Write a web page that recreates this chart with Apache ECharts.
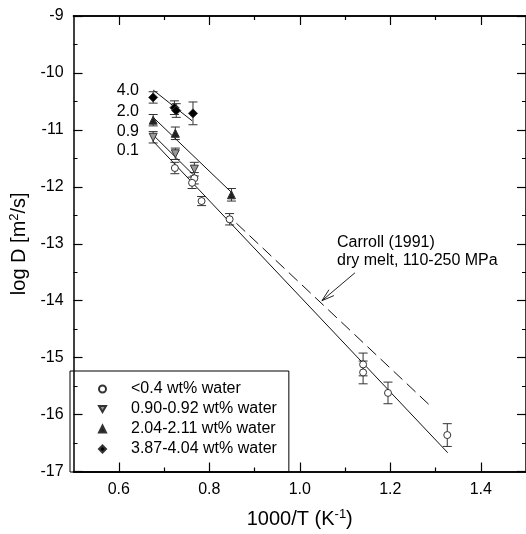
<!DOCTYPE html>
<html>
<head>
<meta charset="utf-8">
<script src="https://cdn.jsdelivr.net/npm/echarts@6/dist/echarts.min.js"></script>
<style>
  html, body { margin: 0; padding: 0; background: #fff; }
  #chart { width: 526px; height: 534px; }
</style>
</head>
<body>
<div id="chart"></div>
<script>
// data: x = 1000/T, y = log D, err = half length of error bar
const lowX   = [0.724, 0.767, 0.762, 0.783, 0.845, 1.140, 1.140, 1.195, 1.326];
const lowY   = [-11.67, -11.85, -11.93, -12.25, -12.57, -15.12, -15.26, -15.62, -16.36];
const lowErr = [0.10, 0.10, 0.10, 0.08, 0.10, 0.20, 0.20, 0.19, 0.20];

const w09X   = [0.676, 0.725, 0.767];
const w09Y   = [-11.13, -11.42, -11.69];
const w09Err = [0.10, 0.10, 0.12];

const w20X   = [0.676, 0.725, 0.849];
const w20Y   = [-10.83, -11.06, -12.14];
const w20Err = [0.10, 0.11, 0.11];

const w40X   = [0.676, 0.723, 0.727, 0.764];
const w40Y   = [-10.43, -10.61, -10.66, -10.71];
const w40Err = [0.10, 0.12, 0.12, 0.20];

// fitted lines (end points) and Carroll (1991) dry melt line
const fit40 = [[0.676, -10.30], [0.762, -10.84]];
const fit20 = [[0.676, -10.78], [0.852, -12.12]];
const fit09 = [[0.676, -11.09], [0.770, -11.83]];
const fit01 = [[0.676, -11.20], [1.327, -16.67]];
const carroll = [[0.860, -12.64], [1.293, -15.88]];
const arrow = [[1.122, -13.51, 1.049, -14.00]];

const seriesNames = ['<0.4 wt% water', '0.90-0.92 wt% water', '2.04-2.11 wt% water', '3.87-4.04 wt% water'];
const xMajor = [0.6, 0.8, 1.0, 1.2, 1.4];
const xMinor = [0.7, 0.9, 1.1, 1.3];

const FONT = "'Liberation Sans', Arial, Helvetica, sans-serif";
const TRI_DOWN = 'path://M0,0L10,0L5,8.66Z';

function pts(xs, ys) {
  return xs.map((x, i) => [x, ys[i]]);
}

function errorBars(xs, ys, es) {
  return {
    type: 'custom',
    silent: true,
    z: 1,
    data: xs.map((x, i) => [x, ys[i] - es[i], ys[i] + es[i]]),
    encode: { x: 0, y: [1, 2] },
    renderItem: function (params, api) {
      const lo = api.coord([api.value(0), api.value(1)]);
      const hi = api.coord([api.value(0), api.value(2)]);
      const w = 4.5;
      const st = { stroke: '#333', lineWidth: 1, fill: null };
      return {
        type: 'group',
        children: [
          { type: 'line', shape: { x1: lo[0], y1: lo[1], x2: hi[0], y2: hi[1] }, style: st },
          { type: 'line', shape: { x1: lo[0] - w, y1: lo[1], x2: lo[0] + w, y2: lo[1] }, style: st },
          { type: 'line', shape: { x1: hi[0] - w, y1: hi[1], x2: hi[0] + w, y2: hi[1] }, style: st }
        ]
      };
    }
  };
}

function fitLine(data, dashed) {
  return {
    type: 'line',
    data: data,
    symbol: 'none',
    silent: true,
    z: 2,
    lineStyle: { color: '#111', width: 1, type: dashed ? [12, 6] : 'solid' }
  };
}

function scatter(name, xs, ys, symbol, size, fill) {
  return {
    name: name,
    type: 'scatter',
    data: pts(xs, ys),
    symbol: symbol,
    symbolSize: size,
    z: 3,
    itemStyle: { color: fill, borderColor: '#333', borderWidth: 1, opacity: 1 }
  };
}

const axisLine = { show: true, lineStyle: { color: '#000', width: 1.5 } };

function xAxisDef(pos, ticks, len, withLabels) {
  return {
    type: 'value',
    position: pos,
    min: 0.5,
    max: 1.5,
    axisLine: axisLine,
    axisTick: { show: true, inside: true, length: len, customValues: ticks, lineStyle: { color: '#000', width: 1.2 } },
    axisLabel: withLabels
      ? { show: true, customValues: xMajor, formatter: v => v.toFixed(1), fontSize: 16, color: '#000', fontFamily: FONT, margin: 10 }
      : { show: false },
    splitLine: { show: false }
  };
}

function yAxisDef(pos, withLabels) {
  return {
    type: 'value',
    position: pos,
    min: -17,
    max: -9,
    interval: 1,
    axisLine: axisLine,
    axisTick: { show: true, inside: true, length: 9, lineStyle: { color: '#000', width: 1.2 } },
    minorTick: { show: true, splitNumber: 2, length: 4, lineStyle: { color: '#000', width: 1 } },
    axisLabel: withLabels
      ? { show: true, fontSize: 16, color: '#000', fontFamily: FONT, margin: 10 }
      : { show: false },
    splitLine: { show: false }
  };
}

const xAxes = [
  xAxisDef('bottom', xMajor, 9, true),
  xAxisDef('bottom', xMinor, 4, false),
  xAxisDef('top', xMajor, 9, false),
  xAxisDef('top', xMinor, 4, false)
];
xAxes[0].name = '1000/T (K{s|-1})';
xAxes[0].nameLocation = 'middle';
xAxes[0].nameGap = 36;
xAxes[0].nameTextStyle = {
  fontSize: 20, color: '#000', fontFamily: FONT,
  rich: { s: { fontSize: 13, fontFamily: FONT, color: '#000', padding: [0, 0, 10, 0] } }
};

const yAxes = [yAxisDef('left', true), yAxisDef('right', false)];
yAxes[0].name = 'log D [m{s|2}/s]';
yAxes[0].nameLocation = 'middle';
yAxes[0].nameGap = 36;
yAxes[0].nameTextStyle = {
  fontSize: 20, color: '#000', fontFamily: FONT,
  rich: { s: { fontSize: 13, fontFamily: FONT, color: '#000', padding: [0, 0, 10, 0] } }
};

const arrowSeries = {
  type: 'custom',
  silent: true,
  z: 2,
  data: arrow,
  renderItem: function (params, api) {
    const a = api.coord([api.value(0), api.value(1)]);
    const b = api.coord([api.value(2), api.value(3)]);
    const ang = Math.atan2(b[1] - a[1], b[0] - a[0]);
    const L = 13, spread = 0.3;
    const p1 = [b[0] - L * Math.cos(ang - spread), b[1] - L * Math.sin(ang - spread)];
    const p2 = [b[0] - L * Math.cos(ang + spread), b[1] - L * Math.sin(ang + spread)];
    const st = { stroke: '#222', lineWidth: 1, fill: null };
    return {
      type: 'group',
      children: [
        { type: 'line', shape: { x1: a[0], y1: a[1], x2: b[0], y2: b[1] }, style: st },
        { type: 'line', shape: { x1: p1[0], y1: p1[1], x2: b[0], y2: b[1] }, style: st },
        { type: 'line', shape: { x1: p2[0], y1: p2[1], x2: b[0], y2: b[1] }, style: st }
      ]
    };
  }
};

function txt(text, x, y, align) {
  return {
    type: 'text', x: x, y: y, z: 10,
    style: { text: text, fontSize: 16, fontFamily: FONT, fill: '#000', align: align || 'left', verticalAlign: 'middle' }
  };
}

const chart = echarts.init(document.getElementById('chart'));
chart.setOption({
  animation: false,
  backgroundColor: '#fff',
  grid: { left: 70, top: 16, right: -2, bottom: 62, containLabel: false },
  xAxis: xAxes,
  yAxis: yAxes,
  legend: {
    data: seriesNames,
    orient: 'vertical',
    left: 70,
    top: 371,
    padding: [9, 12, 14, 28],
    borderColor: '#000',
    borderWidth: 1,
    itemWidth: 7,
    itemHeight: 7,
    itemGap: 2,
    selectedMode: false,
    textStyle: { fontSize: 16, lineHeight: 18, color: '#000', fontFamily: FONT, padding: [0, 0, 0, 20] }
  },
  graphic: [
    txt('4.0', 139, 91, 'right'),
    txt('2.0', 139, 112, 'right'),
    txt('0.9', 139, 132, 'right'),
    txt('0.1', 139, 151, 'right'),
    txt('Carroll (1991)', 337, 243),
    txt('dry melt, 110-250 MPa', 337, 261)
  ],
  series: [
    fitLine(fit40), fitLine(fit20), fitLine(fit09), fitLine(fit01), fitLine(carroll, true),
    arrowSeries,
    errorBars(lowX, lowY, lowErr),
    errorBars(w09X, w09Y, w09Err),
    errorBars(w20X, w20Y, w20Err),
    errorBars(w40X, w40Y, w40Err),
    scatter(seriesNames[0], lowX, lowY, 'circle', 7, '#fff'),
    scatter(seriesNames[1], w09X, w09Y, TRI_DOWN, 8, '#999'),
    scatter(seriesNames[2], w20X, w20Y, 'triangle', 8, '#222'),
    scatter(seriesNames[3], w40X, w40Y, 'diamond', 9, '#000')
  ]
});
</script>
</body>
</html>
